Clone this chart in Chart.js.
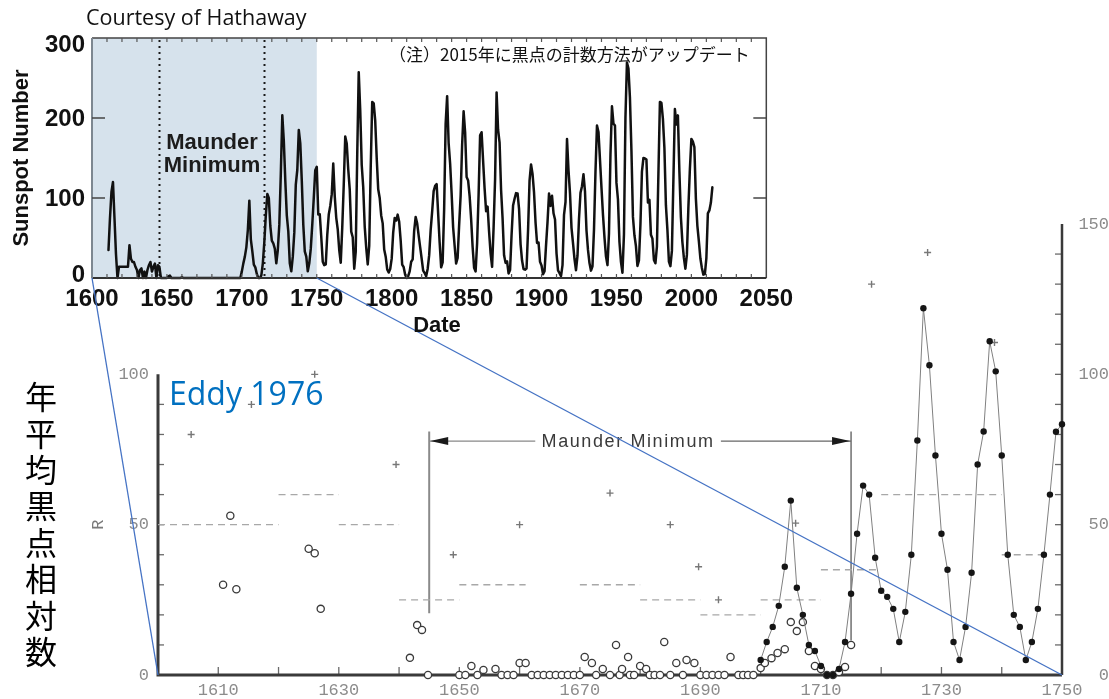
<!DOCTYPE html>
<html lang="ja">
<head>
<meta charset="utf-8">
<script src="https://cdn.jsdelivr.net/npm/chart.js@4.4.1/dist/chart.umd.min.js"></script>
<style>
html,body{margin:0;padding:0;background:#fff;}
body{width:1109px;height:699px;position:relative;overflow:hidden;}
canvas{position:absolute;display:block;}
#topCanvas{left:0;top:0;}
#botCanvas{left:0;top:200px;}
.t{position:absolute;white-space:nowrap;margin:0;}
#courtesy{left:86px;top:6px;font:21.5px/21.5px "Open Sans";color:#111;}
#note{left:389px;top:45px;font:17px/17px "Noto Sans CJK JP";color:#111;}
#mm1,#mm2{left:142px;width:140px;text-align:center;font:bold 22px/22px "Liberation Sans";color:#1c1c1c;}
#mm1{top:131px;}
#mm2{top:154px;}
#ylab{left:-79.5px;top:147px;width:200px;text-align:center;font:bold 22px/22px "Liberation Sans";color:#111;transform:rotate(-90deg);}
#date{left:387px;width:100px;text-align:center;top:314px;font:bold 22px/22px "Liberation Sans";color:#111;}
#eddy{left:169px;top:377px;font:32px/32px "Open Sans";color:#0070c0;}
#vjp{left:21px;top:381px;writing-mode:vertical-rl;text-orientation:upright;font:32px/40px "Noto Sans CJK JP";letter-spacing:4.4px;color:#000;}
</style>
</head>
<body>
<canvas id="topCanvas" width="800" height="340"></canvas>
<canvas id="botCanvas" width="1109" height="499"></canvas>
<div class="t" id="courtesy">Courtesy of Hathaway</div>
<div class="t" id="note">（注）2015年に黒点の計数方法がアップデート</div>
<div class="t" id="mm1">Maunder</div>
<div class="t" id="mm2">Minimum</div>
<div class="t" id="ylab">Sunspot Number</div>
<div class="t" id="date">Date</div>
<div class="t" id="eddy">Eddy 1976</div>
<div class="t" id="vjp">年平均黒点相対数</div>
<script>
// ---------------- Top chart data (yearly sunspot number) ----------------
const sunspotEarlyStart = 1611;
const sunspotEarly = [
  35, 75, 108, 120, 75, 30, 0, 14, 14, 14,
  14, 14, 14, 14, 41, 24, 20, 20, 14, 10,
  0, 10, 12, 0, 8, 0, 10, 16, 20, 8,
  14, 18, 0, 16, 14, 0, 0, 0, 0, 0,
  2, 3, 0, 0, 0, 0, 0, 0, 0, 1,
  0, 0, 0, 0, 0, 0, 0, 0, 0, 0,
  0, 0, 0, 0, 0, 0, 0, 0, 0, 0,
  0, 0, 0, 0, 0, 0, 0, 0, 0, 0,
  0, 0, 0, 0, 0, 0, 0, 0, 0
];
const sunspotModernStart = 1700;
const sunspotModern = [
  8.3, 18.3, 26.7, 38.3, 60.0, 96.7, 48.3, 33.3, 16.7, 13.3,
  5.0, 0.0, 0.0, 3.3, 18.3, 45.0, 78.3, 105.0, 100.0, 65.0,
  46.7, 43.3, 36.7, 18.3, 35.0, 66.7, 130.0, 203.3, 171.7, 121.7,
  78.3, 58.3, 18.3, 8.3, 26.7, 56.7, 116.7, 135.0, 185.0, 168.3,
  121.7, 66.7, 33.3, 26.7, 8.3, 18.3, 36.7, 66.7, 100.0, 134.8,
  139.0, 79.5, 79.7, 51.2, 20.3, 16.0, 17.0, 54.0, 79.3, 90.0,
  104.8, 143.2, 102.0, 75.2, 60.7, 34.8, 19.0, 63.0, 116.3, 176.8,
  168.0, 136.0, 110.8, 58.0, 51.0, 11.7, 33.0, 154.2, 257.3, 209.8,
  141.3, 113.5, 64.2, 38.0, 17.0, 40.2, 138.2, 220.0, 218.2, 196.8,
  149.8, 111.0, 100.0, 78.2, 68.3, 35.5, 26.7, 10.7, 6.8, 11.3,
  24.2, 56.7, 75.0, 71.8, 79.2, 70.3, 46.8, 16.8, 13.5, 4.2,
  0.0, 2.3, 8.3, 20.3, 23.2, 59.0, 76.3, 68.3, 52.9, 38.5,
  24.2, 9.2, 6.3, 2.2, 11.4, 28.2, 59.9, 83.0, 108.5, 115.2,
  117.4, 80.8, 44.3, 13.4, 19.5, 85.8, 192.7, 227.3, 168.7, 143.0,
  105.5, 63.3, 40.3, 18.1, 25.1, 65.8, 102.7, 166.3, 208.3, 182.5,
  126.3, 122.0, 102.7, 74.1, 39.0, 12.7, 8.2, 43.4, 104.4, 178.3,
  182.2, 146.6, 112.1, 83.5, 89.2, 57.8, 30.7, 13.9, 62.8, 123.6,
  232.0, 185.3, 169.2, 110.1, 74.5, 28.3, 18.9, 20.7, 5.7, 10.0,
  53.7, 90.5, 99.0, 106.1, 105.8, 86.3, 42.4, 21.8, 11.2, 10.4,
  11.8, 59.5, 121.7, 142.0, 130.0, 106.6, 69.4, 43.8, 44.4, 20.2,
  15.7, 4.6, 8.5, 40.8, 70.1, 105.5, 90.1, 102.8, 80.9, 73.2,
  30.9, 9.5, 6.0, 2.4, 16.1, 79.0, 95.0, 173.6, 134.6, 105.7,
  62.7, 43.5, 23.7, 9.7, 27.9, 74.0, 106.5, 114.7, 129.7, 108.2,
  59.4, 35.1, 18.6, 9.2, 14.6, 60.2, 132.8, 190.6, 182.6, 148.0,
  113.0, 79.2, 50.8, 27.1, 16.1, 55.3, 154.3, 214.7, 193.0, 190.7,
  118.9, 98.3, 45.0, 20.1, 6.6, 54.2, 200.7, 269.3, 261.7, 225.1,
  159.0, 76.4, 53.4, 39.9, 15.0, 22.0, 66.8, 132.9, 150.0, 149.4,
  148.0, 94.4, 97.6, 54.1, 49.2, 22.5, 18.4, 39.3, 131.0, 220.1,
  218.9, 198.9, 162.4, 91.0, 60.5, 20.6, 14.8, 33.9, 123.0, 211.1,
  191.8, 203.3, 133.0, 76.1, 44.9, 25.1, 11.6, 28.9, 88.3, 136.3,
  173.9, 170.4, 163.6, 99.3, 65.3, 45.8, 24.7, 12.6, 4.2, 4.8,
  24.9, 80.8, 84.5, 94.0, 113.3
];
const topXTicks = [1600, 1650, 1700, 1750, 1800, 1850, 1900, 1950, 2000, 2050];
const topYTicks = [0, 100, 200, 300];
const topShade = [1600, 1750];
const topMaunderLines = [1645, 1715];

// ---------------- Bottom chart data (Eddy 1976) ----------------
const zurichStart = 1700;
const zurichValues = [
  5, 11, 16, 23, 36, 58, 29, 20, 10, 8,
  3, 0, 0, 2, 11, 27, 47, 63, 60, 39,
  28, 26, 22, 11, 21, 40, 78, 122, 103, 73,
  47, 35, 11, 5, 16, 34, 70, 81, 111, 101,
  73, 40, 20, 16, 5, 11, 22, 40, 60, 80.9,
  83.4
];
const circleYears = [
  1610.8, 1612, 1613, 1625, 1626, 1627, 1641.8, 1643, 1643.8, 1644.8,
  1650, 1651, 1652, 1653, 1654, 1656, 1657, 1658, 1659, 1660, 1661,
  1662, 1663, 1664, 1665, 1666, 1667, 1668, 1669, 1670, 1670.8, 1672, 1672.7,
  1673.8, 1675, 1676, 1676.6, 1677, 1678, 1678.3, 1679, 1680, 1681, 1681.6, 1682.4, 1683.3,
  1684, 1685, 1686, 1687.1, 1687.7, 1689, 1690, 1691, 1692, 1693, 1694, 1695,
  1696.3, 1697.1, 1697.9, 1698.8, 1700, 1700.7, 1701.8, 1702.8, 1704, 1705, 1706, 1707,
  1708, 1709, 1710, 1711, 1712, 1713, 1714, 1715
];
const circleValues = [
  30, 53, 28.5, 42, 40.5, 22, 5.7, 16.6, 15, 0,
  0, 0, 3, 0, 1.7, 2, 0, 0, 0, 4, 4,
  0, 0, 0, 0, 0, 0, 0, 0, 0, 6, 4, 0,
  2, 0, 10, 0, 2, 6, 0, 0, 3, 2, 0, 0, 0,
  11, 0, 4, 0, 5, 4, 0, 0, 0, 0, 0, 6,
  0, 0, 0, 0, 2.3, 4, 5.6, 7.3, 8.6, 17.6, 14.6, 17.6,
  8, 3, 2, 0, 0, 1, 2.7, 10
];
const crossYears = [1605.5, 1615.5, 1626, 1639.5, 1649, 1660, 1675, 1685, 1689.7, 1693, 1705.8, 1718.4, 1727.7, 1738.8];
const crossValues = [80, 90, 100, 70, 40, 50, 60.5, 50, 36, 25, 50.5, 130, 140.5, 110.6];
const meanStarts = [1600, 1620, 1630, 1640, 1650, 1670, 1680, 1690, 1700, 1710, 1720, 1740];
const meanEnds   = [1620, 1630, 1640, 1650, 1661, 1680, 1690, 1700, 1710, 1719.5, 1740, 1747];
const meanValues = [50, 60, 50, 25, 30, 30, 25, 20, 25, 35, 60, 40];
const botXTicks = [1610, 1630, 1650, 1670, 1690, 1710, 1730, 1750];
const botLeftTicks = [0, 50, 100];
const botRightTicks = [0, 50, 100, 150];
const maunderBracket = {start: 1645, end: 1715, level: 77.8, textFrom: 1662.6, textTo: 1693.4, label: 'Maunder Minimum'};
const bracketLeftSpan = [81, 20.5];
const bracketRightSpan = [81, 11.5];

// ---------------- Top chart ----------------
const topDecor = {
  id: 'topDecor',
  beforeDatasetsDraw(chart) {
    const {ctx, chartArea: a, scales: {x}} = chart;
    ctx.save();
    const x0 = x.getPixelForValue(topShade[0]), x1 = x.getPixelForValue(topShade[1]);
    ctx.fillStyle = '#d6e2ec';
    ctx.fillRect(x0, a.top, x1 - x0, a.bottom - a.top);
    ctx.strokeStyle = '#1a1a1a';
    ctx.lineWidth = 2;
    ctx.setLineDash([2, 4]);
    topMaunderLines.forEach(yr => {
      const px = Math.round(x.getPixelForValue(yr)) + 0.5;
      ctx.beginPath(); ctx.moveTo(px, a.top + 2); ctx.lineTo(px, a.bottom); ctx.stroke();
    });
    ctx.restore();
  },
  afterDatasetsDraw(chart) {
    const {ctx, chartArea: a, scales: {x, y}} = chart;
    ctx.save();
    ctx.lineWidth = 1.5;
    ctx.strokeStyle = '#444';
    ctx.beginPath();
    ctx.moveTo(a.left, a.top); ctx.lineTo(a.right, a.top); ctx.lineTo(a.right, a.bottom);
    ctx.stroke();
    ctx.lineWidth = 2; ctx.strokeStyle = '#333';
    ctx.beginPath(); ctx.moveTo(a.left, a.bottom); ctx.lineTo(a.right, a.bottom); ctx.stroke();
    ctx.strokeStyle = '#7d8790';
    ctx.beginPath(); ctx.moveTo(a.left, a.top); ctx.lineTo(a.left, a.bottom); ctx.stroke();
    ctx.lineWidth = 1.2; ctx.strokeStyle = '#555';
    for (let yr = 1610; yr < 2050; yr += 10) {
      const px = x.getPixelForValue(yr);
      ctx.beginPath(); ctx.moveTo(px, a.top); ctx.lineTo(px, a.top + 4); ctx.stroke();
      ctx.beginPath(); ctx.moveTo(px, a.bottom); ctx.lineTo(px, a.bottom - 4); ctx.stroke();
    }
    ctx.lineWidth = 1.5; ctx.strokeStyle = '#444';
    [100, 200].forEach(v => {
      const py = y.getPixelForValue(v);
      ctx.beginPath(); ctx.moveTo(a.left, py); ctx.lineTo(a.left + 13, py); ctx.stroke();
      ctx.beginPath(); ctx.moveTo(a.right, py); ctx.lineTo(a.right - 13, py); ctx.stroke();
    });
    // y tick labels, kept inside the frame at the ends (as in the original plot)
    ctx.font = 'bold 24px "Liberation Sans"';
    ctx.fillStyle = '#111';
    ctx.textAlign = 'right'; ctx.textBaseline = 'middle';
    topYTicks.forEach(v => {
      const py = Math.min(Math.max(y.getPixelForValue(v), a.top + 6), a.bottom - 4);
      ctx.fillText(String(v), a.left - 7, py + 1);
    });
    ctx.restore();
  }
};

const sunspotPoints = [];
sunspotEarly.forEach((v, i) => sunspotPoints.push({x: sunspotEarlyStart + i, y: v}));
sunspotModern.forEach((v, i) => sunspotPoints.push({x: sunspotModernStart + i, y: v}));

const boldTick = {family: 'Liberation Sans', weight: 'bold', size: 24};
const topChart = new Chart(document.getElementById('topCanvas'), {
  type: 'scatter',
  data: {datasets: [{
    data: sunspotPoints, showLine: true, borderColor: '#111', borderWidth: 2.5,
    borderJoinStyle: 'round', borderCapStyle: 'round',
    pointRadius: 0, tension: 0, clip: false
  }]},
  options: {
    responsive: false, animation: false, events: [],
    layout: {padding: {left: 0, top: 38, right: 32, bottom: 0}},
    plugins: {legend: {display: false}, tooltip: {enabled: false}},
    scales: {
      x: {
        type: 'linear', min: 1600, max: 2050,
        afterBuildTicks: s => { s.ticks = topXTicks.map(v => ({value: v})); },
        afterFit: s => { s.height = 62; },
        grid: {display: false, drawTicks: false}, border: {display: false},
        ticks: {font: boldTick, color: '#111', padding: 7, maxRotation: 0, autoSkip: false, callback: v => String(v)}
      },
      y: {
        min: 0, max: 300,
        afterBuildTicks: s => { s.ticks = topYTicks.map(v => ({value: v})); },
        afterFit: s => { s.width = 92; },
        grid: {display: false, drawTicks: false}, border: {display: false},
        ticks: {display: false}
      }
    }
  },
  plugins: [topDecor]
});

// ---------------- Bottom chart ----------------
const botCanvas = document.getElementById('botCanvas');
const canvasOffsetY = botCanvas.offsetTop - document.getElementById('topCanvas').offsetTop;

const botDecor = {
  id: 'botDecor',
  beforeDatasetsDraw(chart) {
    const {ctx, scales: {x, y}} = chart;
    const x0 = x.getPixelForValue(1600), x1 = x.getPixelForValue(1750), y0 = y.getPixelForValue(0);
    ctx.save();
    ctx.strokeStyle = '#6a6a6a'; ctx.lineWidth = 1.3;
    for (let yr = 1610; yr < 1750; yr += 10) {
      const px = x.getPixelForValue(yr);
      ctx.beginPath(); ctx.moveTo(px, y0); ctx.lineTo(px, y0 - 8); ctx.stroke();
    }
    for (let v = 10; v < 100; v += 10) {
      const py = y.getPixelForValue(v);
      ctx.beginPath(); ctx.moveTo(x0, py); ctx.lineTo(x0 + 6, py); ctx.stroke();
    }
    for (let v = 10; v < 150; v += 10) {
      const py = y.getPixelForValue(v);
      ctx.beginPath(); ctx.moveTo(x1, py); ctx.lineTo(x1 - 7, py); ctx.stroke();
    }
    ctx.strokeStyle = '#3a3a3a';
    ctx.lineWidth = 3;
    ctx.beginPath(); ctx.moveTo(x0, y.getPixelForValue(100)); ctx.lineTo(x0, y0); ctx.lineTo(x1, y0); ctx.stroke();
    ctx.lineWidth = 2.5;
    ctx.beginPath(); ctx.moveTo(x1, y0); ctx.lineTo(x1, y.getPixelForValue(150)); ctx.stroke();
    ctx.restore();
  },
  afterDatasetsDraw(chart) {
    const {ctx, scales: {x, y}} = chart;
    ctx.save();
    const ly = y.getPixelForValue(maunderBracket.level);
    const ax0 = x.getPixelForValue(maunderBracket.start), ax1 = x.getPixelForValue(maunderBracket.end);
    ctx.fillStyle = '#1a1a1a';
    ctx.beginPath(); ctx.moveTo(ax0 + 1, ly); ctx.lineTo(ax0 + 19, ly - 4); ctx.lineTo(ax0 + 19, ly + 4); ctx.closePath(); ctx.fill();
    ctx.beginPath(); ctx.moveTo(ax1 - 1, ly); ctx.lineTo(ax1 - 19, ly - 4); ctx.lineTo(ax1 - 19, ly + 4); ctx.closePath(); ctx.fill();
    const tx = (x.getPixelForValue(maunderBracket.textFrom) + x.getPixelForValue(maunderBracket.textTo)) / 2;
    ctx.font = '18px "Liberation Sans"';
    ctx.letterSpacing = '1.6px';
    ctx.fillStyle = '#3a3a3a';
    ctx.textAlign = 'center'; ctx.textBaseline = 'middle';
    ctx.fillText(maunderBracket.label, tx, ly + 1);
    ctx.letterSpacing = '0px';
    ctx.translate(98, y.getPixelForValue(50));
    ctx.rotate(-Math.PI / 2);
    ctx.font = '17px "Liberation Mono"';
    ctx.fillStyle = '#7a7a7a';
    ctx.fillText('R', 0, 0);
    ctx.restore();
  },
  afterDraw(chart) {
    const {ctx, scales: {x, y}} = chart;
    const tx = topChart.scales.x, ty = topChart.scales.y;
    ctx.save();
    ctx.strokeStyle = '#4472c4'; ctx.lineWidth = 1.3;
    [1600, 1750].forEach(yr => {
      ctx.beginPath();
      ctx.moveTo(tx.getPixelForValue(yr), ty.getPixelForValue(0) - canvasOffsetY);
      ctx.lineTo(x.getPixelForValue(yr), y.getPixelForValue(0));
      ctx.stroke();
    });
    ctx.restore();
  }
};

const monoTick = {family: 'Liberation Mono', size: 17};
const botDatasets = [];
botDatasets.push({
  data: zurichValues.map((v, i) => ({x: zurichStart + i, y: v})),
  showLine: true, borderColor: '#808080', borderWidth: 1,
  pointRadius: 3.2, pointBackgroundColor: '#151515', pointBorderColor: '#151515', pointBorderWidth: 0, clip: false
});
botDatasets.push({
  data: circleYears.map((yr, i) => ({x: yr, y: circleValues[i]})),
  pointStyle: 'circle', pointRadius: 3.6, pointBorderWidth: 1.3,
  pointBorderColor: '#3a3a3a', pointBackgroundColor: '#ffffff', clip: false
});
botDatasets.push({
  data: crossYears.map((yr, i) => ({x: yr, y: crossValues[i]})),
  pointStyle: 'cross', pointRadius: 3.5, pointBorderWidth: 1.4,
  pointBorderColor: '#777', clip: false
});
meanStarts.forEach((s, i) => {
  botDatasets.push({
    data: [{x: s, y: meanValues[i]}, {x: meanEnds[i], y: meanValues[i]}],
    showLine: true, borderColor: '#a8a8a8', borderWidth: 1.4, borderDash: [7, 5], pointRadius: 0, clip: false
  });
});
botDatasets.push({
  data: [{x: maunderBracket.start, y: bracketLeftSpan[0]}, {x: maunderBracket.start, y: bracketLeftSpan[1]}],
  showLine: true, borderColor: '#8a8a8a', borderWidth: 2, pointRadius: 0, clip: false
});
botDatasets.push({
  data: [{x: maunderBracket.end, y: bracketRightSpan[0]}, {x: maunderBracket.end, y: bracketRightSpan[1]}],
  showLine: true, borderColor: '#666', borderWidth: 1.4, pointRadius: 0, clip: false
});
botDatasets.push({
  data: [{x: maunderBracket.start, y: maunderBracket.level}, {x: maunderBracket.textFrom, y: maunderBracket.level}],
  showLine: true, borderColor: '#888', borderWidth: 1.4, pointRadius: 0, clip: false
});
botDatasets.push({
  data: [{x: maunderBracket.textTo, y: maunderBracket.level}, {x: maunderBracket.end, y: maunderBracket.level}],
  showLine: true, borderColor: '#666', borderWidth: 1.4, pointRadius: 0, clip: false
});

const botChart = new Chart(botCanvas, {
  type: 'scatter',
  data: {datasets: botDatasets},
  options: {
    responsive: false, animation: false, events: [],
    layout: {padding: {left: 0, top: 24, right: 0, bottom: 0}},
    plugins: {legend: {display: false}, tooltip: {enabled: false}},
    scales: {
      x: {
        type: 'linear', min: 1600, max: 1750,
        afterBuildTicks: s => { s.ticks = botXTicks.map(v => ({value: v})); },
        afterFit: s => { s.height = 24; },
        grid: {display: false, drawTicks: false}, border: {display: false},
        ticks: {font: monoTick, color: '#8c8c8c', padding: 5, maxRotation: 0, autoSkip: false, callback: v => String(v)}
      },
      y: {
        min: 0, max: 150,
        afterBuildTicks: s => { s.ticks = botLeftTicks.map(v => ({value: v})); },
        afterFit: s => { s.width = 158; },
        grid: {display: false, drawTicks: false}, border: {display: false},
        ticks: {font: monoTick, color: '#8c8c8c', padding: 9}
      },
      y2: {
        position: 'right', min: 0, max: 150,
        afterBuildTicks: s => { s.ticks = botRightTicks.map(v => ({value: v})); },
        afterFit: s => { s.width = 47; },
        grid: {display: false, drawTicks: false}, border: {display: false},
        ticks: {font: monoTick, color: '#8c8c8c', padding: 10, crossAlign: 'far'}
      }
    }
  },
  plugins: [botDecor]
});
</script>
</body>
</html>
